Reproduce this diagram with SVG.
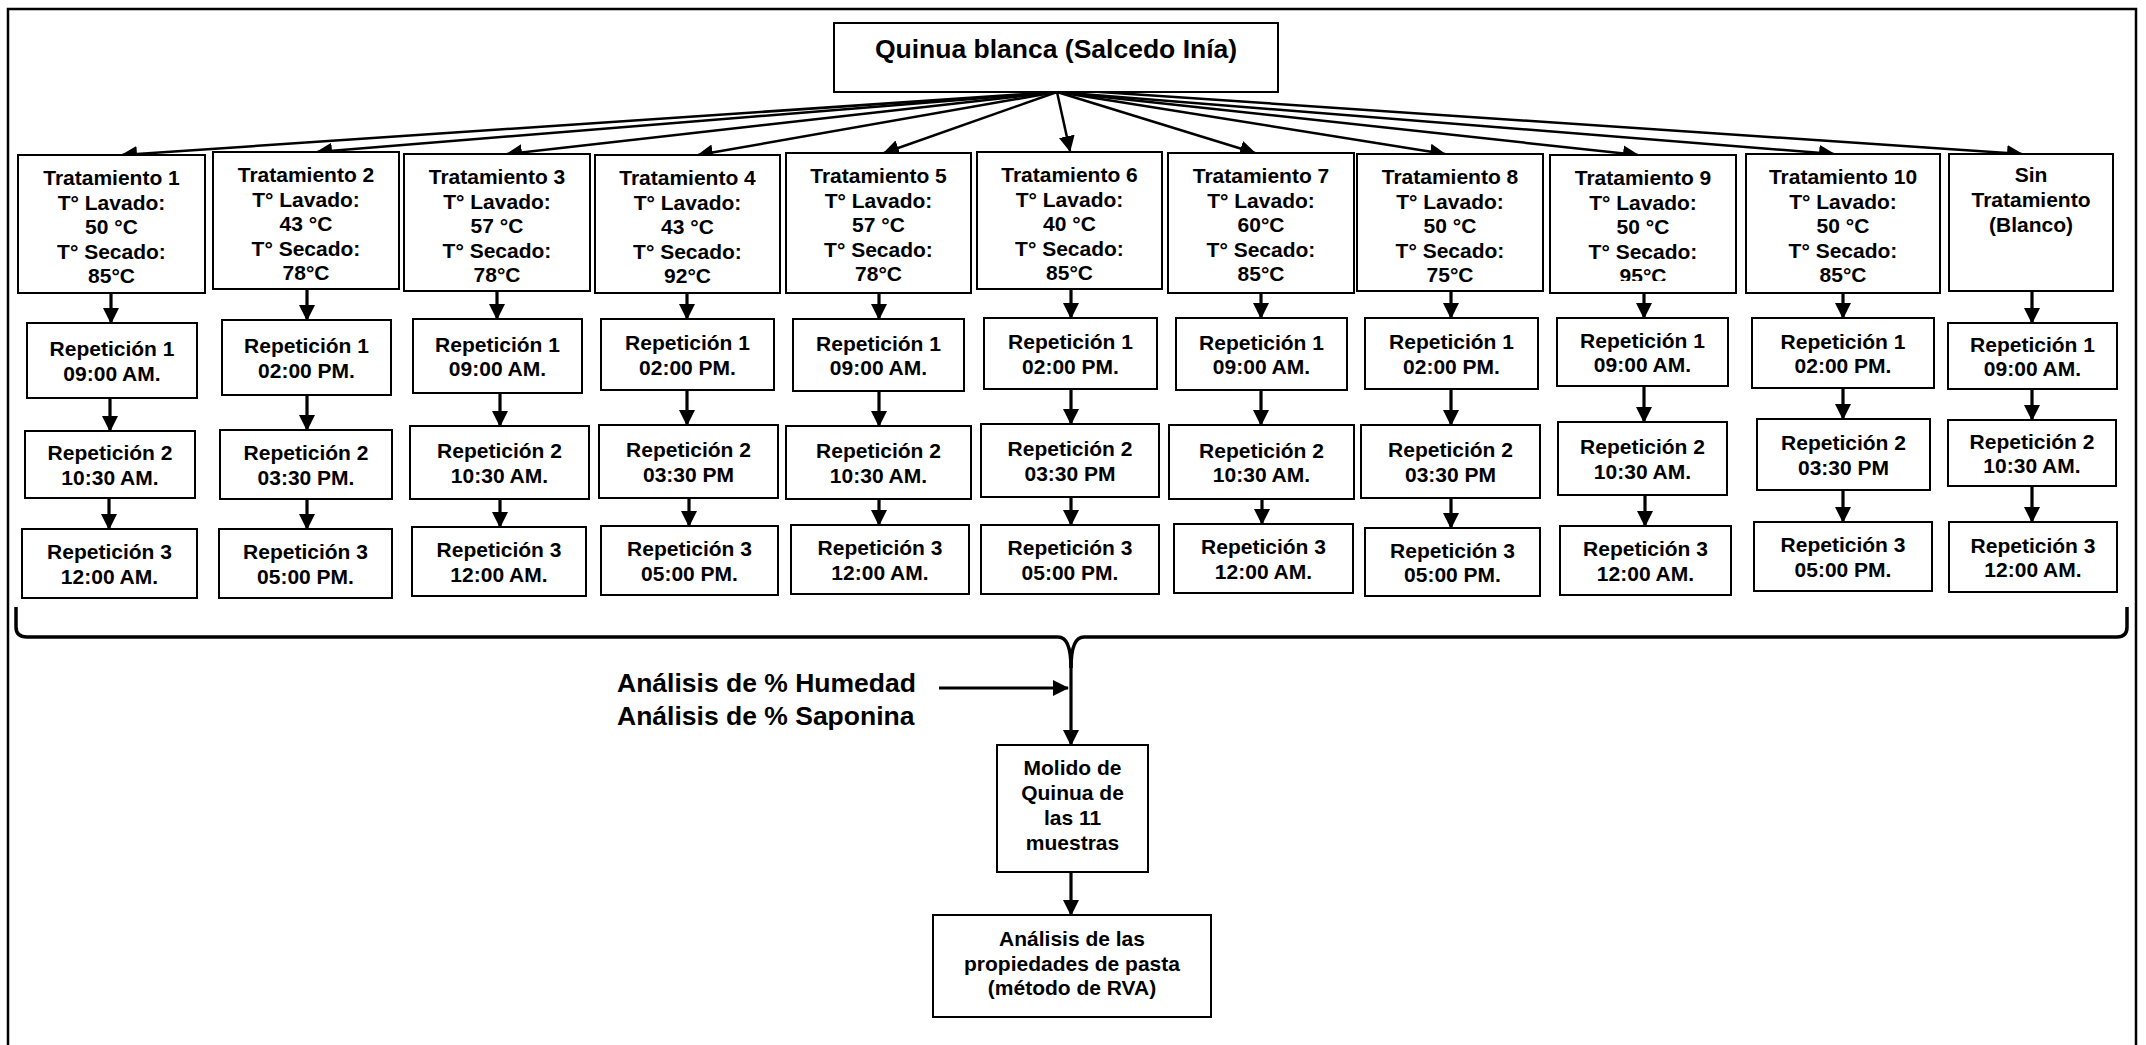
<svg xmlns="http://www.w3.org/2000/svg" width="2146" height="1045" viewBox="0 0 2146 1045">
<style>
.box{fill:#fff;stroke:#000;stroke-width:2}
.t{font-family:"Liberation Sans",Arial,sans-serif;font-weight:bold;font-size:21px;text-anchor:middle;fill:#000}
.big{font-size:26.5px}
.lbl{font-family:"Liberation Sans",Arial,sans-serif;font-weight:bold;font-size:26.5px;fill:#000}
.fan{stroke:#000;stroke-width:2.5;fill:none;marker-end:url(#ah)}
.v{stroke:#000;stroke-width:3.2;fill:none;marker-end:url(#ah)}
.br{stroke:#000;stroke-width:3.5;fill:none}
</style>
<defs>
<marker id="ah" markerUnits="userSpaceOnUse" markerWidth="17" markerHeight="17" refX="15" refY="8" orient="auto"><path d="M0,0 L16,8 L0,16 z" fill="#000"/></marker>
<clipPath id="c9"><rect x="1550" y="150" width="190" height="131"/></clipPath>
</defs>
<rect x="8" y="9" width="2128" height="1045" fill="none" stroke="#000" stroke-width="2.5"/>

<g id="connectors">
<line class="fan" x1="1057" y1="92" x2="122" y2="155"/>
<line class="fan" x1="1057" y1="92" x2="317" y2="152"/>
<line class="fan" x1="1057" y1="92" x2="507" y2="154"/>
<line class="fan" x1="1057" y1="92" x2="698" y2="155"/>
<line class="fan" x1="1057" y1="92" x2="884" y2="153"/>
<line class="fan" x1="1057" y1="92" x2="1070" y2="151"/>
<line class="fan" x1="1057" y1="92" x2="1255" y2="153"/>
<line class="fan" x1="1057" y1="92" x2="1445" y2="154"/>
<line class="fan" x1="1057" y1="92" x2="1638" y2="155"/>
<line class="fan" x1="1057" y1="92" x2="1834" y2="154"/>
<line class="fan" x1="1085" y1="91" x2="2022" y2="154"/>
<line class="v" x1="111" y1="293" x2="111" y2="323"/><line class="v" x1="110" y1="398" x2="110" y2="431"/><line class="v" x1="109" y1="498" x2="109" y2="529"/>
<line class="v" x1="307" y1="289" x2="307" y2="320"/><line class="v" x1="307" y1="395" x2="307" y2="430"/><line class="v" x1="307" y1="499" x2="307" y2="529"/>
<line class="v" x1="497" y1="291" x2="497" y2="319"/><line class="v" x1="500" y1="393" x2="500" y2="426"/><line class="v" x1="500" y1="499" x2="500" y2="527"/>
<line class="v" x1="687" y1="293" x2="687" y2="319"/><line class="v" x1="687" y1="390" x2="687" y2="425"/><line class="v" x1="689" y1="498" x2="689" y2="526"/>
<line class="v" x1="879" y1="293" x2="879" y2="319"/><line class="v" x1="879" y1="391" x2="879" y2="426"/><line class="v" x1="879" y1="499" x2="879" y2="525"/>
<line class="v" x1="1071" y1="289" x2="1071" y2="318"/><line class="v" x1="1071" y1="389" x2="1071" y2="424"/><line class="v" x1="1071" y1="497" x2="1071" y2="525"/>
<line class="v" x1="1261" y1="293" x2="1261" y2="318"/><line class="v" x1="1261" y1="390" x2="1261" y2="425"/><line class="v" x1="1262" y1="499" x2="1262" y2="524"/>
<line class="v" x1="1451" y1="291" x2="1451" y2="318"/><line class="v" x1="1451" y1="389" x2="1451" y2="425"/><line class="v" x1="1451" y1="498" x2="1451" y2="528"/>
<line class="v" x1="1644" y1="293" x2="1644" y2="318"/><line class="v" x1="1644" y1="386" x2="1644" y2="422"/><line class="v" x1="1645" y1="495" x2="1645" y2="526"/>
<line class="v" x1="1843" y1="293" x2="1843" y2="318"/><line class="v" x1="1843" y1="388" x2="1843" y2="419"/><line class="v" x1="1843" y1="490" x2="1843" y2="522"/>
<line class="v" x1="2032" y1="291" x2="2032" y2="323"/><line class="v" x1="2032" y1="389" x2="2032" y2="420"/><line class="v" x1="2032" y1="486" x2="2032" y2="522"/>
<path class="br" d="M16,607 L16,627 Q16,637 27,637 L1058,637 Q1071,637 1071,668 M1071,668 Q1071,637 1084,637 L2117,637 Q2127,637 2127,627 L2127,607"/>
<line class="v" x1="1071" y1="660" x2="1071" y2="745"/>
<line class="v" x1="939" y1="688" x2="1068" y2="688"/>
<line class="v" x1="1071" y1="872" x2="1071" y2="915"/>
</g>

<g id="top"><rect class="box" x="834" y="23" width="444" height="69"/><text class="t big" x="1056" y="58">Quinua blanca (Salcedo Inía)</text></g>

<g id="t1"><rect class="box" x="18" y="155" width="187" height="138"/><text class="t" y="185"><tspan x="111.5">Tratamiento 1</tspan><tspan x="111.5" dy="24.6">T° Lavado:</tspan><tspan x="111.5" dy="24.6">50 °C</tspan><tspan x="111.5" dy="24.6">T° Secado:</tspan><tspan x="111.5" dy="24.6">85°C</tspan></text></g>
<g id="t2"><rect class="box" x="213" y="152" width="186" height="137"/><text class="t" y="182"><tspan x="306">Tratamiento 2</tspan><tspan x="306" dy="24.6">T° Lavado:</tspan><tspan x="306" dy="24.6">43 °C</tspan><tspan x="306" dy="24.6">T° Secado:</tspan><tspan x="306" dy="24.6">78°C</tspan></text></g>
<g id="t3"><rect class="box" x="404" y="154" width="186" height="137"/><text class="t" y="184"><tspan x="497">Tratamiento 3</tspan><tspan x="497" dy="24.6">T° Lavado:</tspan><tspan x="497" dy="24.6">57 °C</tspan><tspan x="497" dy="24.6">T° Secado:</tspan><tspan x="497" dy="24.6">78°C</tspan></text></g>
<g id="t4"><rect class="box" x="595" y="155" width="185" height="138"/><text class="t" y="185"><tspan x="687.5">Tratamiento 4</tspan><tspan x="687.5" dy="24.6">T° Lavado:</tspan><tspan x="687.5" dy="24.6">43 °C</tspan><tspan x="687.5" dy="24.6">T° Secado:</tspan><tspan x="687.5" dy="24.6">92°C</tspan></text></g>
<g id="t5"><rect class="box" x="786" y="153" width="185" height="140"/><text class="t" y="183"><tspan x="878.5">Tratamiento 5</tspan><tspan x="878.5" dy="24.6">T° Lavado:</tspan><tspan x="878.5" dy="24.6">57 °C</tspan><tspan x="878.5" dy="24.6">T° Secado:</tspan><tspan x="878.5" dy="24.6">78°C</tspan></text></g>
<g id="t6"><rect class="box" x="977" y="152" width="185" height="137"/><text class="t" y="182"><tspan x="1069.5">Tratamiento 6</tspan><tspan x="1069.5" dy="24.6">T° Lavado:</tspan><tspan x="1069.5" dy="24.6">40 °C</tspan><tspan x="1069.5" dy="24.6">T° Secado:</tspan><tspan x="1069.5" dy="24.6">85°C</tspan></text></g>
<g id="t7"><rect class="box" x="1168" y="153" width="186" height="140"/><text class="t" y="183"><tspan x="1261">Tratamiento 7</tspan><tspan x="1261" dy="24.6">T° Lavado:</tspan><tspan x="1261" dy="24.6">60°C</tspan><tspan x="1261" dy="24.6">T° Secado:</tspan><tspan x="1261" dy="24.6">85°C</tspan></text></g>
<g id="t8"><rect class="box" x="1357" y="154" width="186" height="137"/><text class="t" y="184"><tspan x="1450">Tratamiento 8</tspan><tspan x="1450" dy="24.6">T° Lavado:</tspan><tspan x="1450" dy="24.6">50 °C</tspan><tspan x="1450" dy="24.6">T° Secado:</tspan><tspan x="1450" dy="24.6">75°C</tspan></text></g>
<g id="t9"><rect class="box" x="1550" y="155" width="186" height="138"/><text class="t" y="185" clip-path="url(#c9)"><tspan x="1643">Tratamiento 9</tspan><tspan x="1643" dy="24.6">T° Lavado:</tspan><tspan x="1643" dy="24.6">50 °C</tspan><tspan x="1643" dy="24.6">T° Secado:</tspan><tspan x="1643" dy="24.6">95°C</tspan></text></g>
<g id="t10"><rect class="box" x="1746" y="154" width="194" height="139"/><text class="t" y="184"><tspan x="1843">Tratamiento 10</tspan><tspan x="1843" dy="24.6">T° Lavado:</tspan><tspan x="1843" dy="24.6">50 °C</tspan><tspan x="1843" dy="24.6">T° Secado:</tspan><tspan x="1843" dy="24.6">85°C</tspan></text></g>
<g id="t11"><rect class="box" x="1949" y="154" width="164" height="137"/><text class="t" y="182"><tspan x="2031">Sin</tspan><tspan x="2031" dy="25">Tratamiento</tspan><tspan x="2031" dy="25">(Blanco)</tspan></text></g>

<g id="r1-1"><rect class="box" x="27" y="323" width="170" height="75"/><text class="t" y="356"><tspan x="112">Repetición 1</tspan><tspan x="112" dy="24.5">09:00 AM.</tspan></text></g>
<g id="r1-2"><rect class="box" x="25" y="431" width="170" height="67"/><text class="t" y="460"><tspan x="110">Repetición 2</tspan><tspan x="110" dy="24.5">10:30 AM.</tspan></text></g>
<g id="r1-3"><rect class="box" x="22" y="529" width="175" height="69"/><text class="t" y="559"><tspan x="109.5">Repetición 3</tspan><tspan x="109.5" dy="24.5">12:00 AM.</tspan></text></g>

<g id="r2-1"><rect class="box" x="222" y="320" width="169" height="75"/><text class="t" y="353"><tspan x="306.5">Repetición 1</tspan><tspan x="306.5" dy="24.5">02:00 PM.</tspan></text></g>
<g id="r2-2"><rect class="box" x="220" y="430" width="172" height="69"/><text class="t" y="460"><tspan x="306">Repetición 2</tspan><tspan x="306" dy="24.5">03:30 PM.</tspan></text></g>
<g id="r2-3"><rect class="box" x="219" y="529" width="173" height="69"/><text class="t" y="559"><tspan x="305.5">Repetición 3</tspan><tspan x="305.5" dy="24.5">05:00 PM.</tspan></text></g>

<g id="r3-1"><rect class="box" x="413" y="319" width="169" height="74"/><text class="t" y="351.5"><tspan x="497.5">Repetición 1</tspan><tspan x="497.5" dy="24.5">09:00 AM.</tspan></text></g>
<g id="r3-2"><rect class="box" x="410" y="426" width="179" height="73"/><text class="t" y="458"><tspan x="499.5">Repetición 2</tspan><tspan x="499.5" dy="24.5">10:30 AM.</tspan></text></g>
<g id="r3-3"><rect class="box" x="412" y="527" width="174" height="69"/><text class="t" y="557"><tspan x="499">Repetición 3</tspan><tspan x="499" dy="24.5">12:00 AM.</tspan></text></g>

<g id="r4-1"><rect class="box" x="601" y="319" width="173" height="71"/><text class="t" y="350"><tspan x="687.5">Repetición 1</tspan><tspan x="687.5" dy="24.5">02:00 PM.</tspan></text></g>
<g id="r4-2"><rect class="box" x="599" y="425" width="179" height="73"/><text class="t" y="457"><tspan x="688.5">Repetición 2</tspan><tspan x="688.5" dy="24.5">03:30 PM</tspan></text></g>
<g id="r4-3"><rect class="box" x="601" y="526" width="177" height="69"/><text class="t" y="556"><tspan x="689.5">Repetición 3</tspan><tspan x="689.5" dy="24.5">05:00 PM.</tspan></text></g>

<g id="r5-1"><rect class="box" x="793" y="319" width="171" height="72"/><text class="t" y="350.5"><tspan x="878.5">Repetición 1</tspan><tspan x="878.5" dy="24.5">09:00 AM.</tspan></text></g>
<g id="r5-2"><rect class="box" x="786" y="426" width="185" height="73"/><text class="t" y="458"><tspan x="878.5">Repetición 2</tspan><tspan x="878.5" dy="24.5">10:30 AM.</tspan></text></g>
<g id="r5-3"><rect class="box" x="791" y="525" width="178" height="69"/><text class="t" y="555"><tspan x="880">Repetición 3</tspan><tspan x="880" dy="24.5">12:00 AM.</tspan></text></g>

<g id="r6-1"><rect class="box" x="984" y="318" width="173" height="71"/><text class="t" y="349"><tspan x="1070.5">Repetición 1</tspan><tspan x="1070.5" dy="24.5">02:00 PM.</tspan></text></g>
<g id="r6-2"><rect class="box" x="981" y="424" width="178" height="73"/><text class="t" y="456"><tspan x="1070">Repetición 2</tspan><tspan x="1070" dy="24.5">03:30 PM</tspan></text></g>
<g id="r6-3"><rect class="box" x="981" y="525" width="178" height="69"/><text class="t" y="555"><tspan x="1070">Repetición 3</tspan><tspan x="1070" dy="24.5">05:00 PM.</tspan></text></g>

<g id="r7-1"><rect class="box" x="1176" y="318" width="171" height="72"/><text class="t" y="349.5"><tspan x="1261.5">Repetición 1</tspan><tspan x="1261.5" dy="24.5">09:00 AM.</tspan></text></g>
<g id="r7-2"><rect class="box" x="1169" y="425" width="185" height="74"/><text class="t" y="457.5"><tspan x="1261.5">Repetición 2</tspan><tspan x="1261.5" dy="24.5">10:30 AM.</tspan></text></g>
<g id="r7-3"><rect class="box" x="1174" y="524" width="179" height="69"/><text class="t" y="554"><tspan x="1263.5">Repetición 3</tspan><tspan x="1263.5" dy="24.5">12:00 AM.</tspan></text></g>

<g id="r8-1"><rect class="box" x="1365" y="318" width="173" height="71"/><text class="t" y="349"><tspan x="1451.5">Repetición 1</tspan><tspan x="1451.5" dy="24.5">02:00 PM.</tspan></text></g>
<g id="r8-2"><rect class="box" x="1361" y="425" width="179" height="73"/><text class="t" y="457"><tspan x="1450.5">Repetición 2</tspan><tspan x="1450.5" dy="24.5">03:30 PM</tspan></text></g>
<g id="r8-3"><rect class="box" x="1365" y="528" width="175" height="68"/><text class="t" y="557.5"><tspan x="1452.5">Repetición 3</tspan><tspan x="1452.5" dy="24.5">05:00 PM.</tspan></text></g>

<g id="r9-1"><rect class="box" x="1557" y="318" width="171" height="68"/><text class="t" y="347.5"><tspan x="1642.5">Repetición 1</tspan><tspan x="1642.5" dy="24.5">09:00 AM.</tspan></text></g>
<g id="r9-2"><rect class="box" x="1558" y="422" width="169" height="73"/><text class="t" y="454"><tspan x="1642.5">Repetición 2</tspan><tspan x="1642.5" dy="24.5">10:30 AM.</tspan></text></g>
<g id="r9-3"><rect class="box" x="1560" y="526" width="171" height="69"/><text class="t" y="556"><tspan x="1645.5">Repetición 3</tspan><tspan x="1645.5" dy="24.5">12:00 AM.</tspan></text></g>

<g id="r10-1"><rect class="box" x="1752" y="318" width="182" height="70"/><text class="t" y="348.5"><tspan x="1843">Repetición 1</tspan><tspan x="1843" dy="24.5">02:00 PM.</tspan></text></g>
<g id="r10-2"><rect class="box" x="1757" y="419" width="173" height="71"/><text class="t" y="450"><tspan x="1843.5">Repetición 2</tspan><tspan x="1843.5" dy="24.5">03:30 PM</tspan></text></g>
<g id="r10-3"><rect class="box" x="1754" y="522" width="178" height="69"/><text class="t" y="552"><tspan x="1843">Repetición 3</tspan><tspan x="1843" dy="24.5">05:00 PM.</tspan></text></g>

<g id="r11-1"><rect class="box" x="1948" y="323" width="169" height="66"/><text class="t" y="351.5"><tspan x="2032.5">Repetición 1</tspan><tspan x="2032.5" dy="24.5">09:00 AM.</tspan></text></g>
<g id="r11-2"><rect class="box" x="1948" y="420" width="168" height="66"/><text class="t" y="448.5"><tspan x="2032">Repetición 2</tspan><tspan x="2032" dy="24.5">10:30 AM.</tspan></text></g>
<g id="r11-3"><rect class="box" x="1949" y="522" width="168" height="70"/><text class="t" y="552.5"><tspan x="2033">Repetición 3</tspan><tspan x="2033" dy="24.5">12:00 AM.</tspan></text></g>

<g id="analisis"><text class="lbl" x="617" y="692">Análisis de % Humedad</text><text class="lbl" x="617" y="725">Análisis de % Saponina</text></g>
<g id="molido"><rect class="box" x="997" y="745" width="151" height="127"/><text class="t" y="775"><tspan x="1072.5">Molido de</tspan><tspan x="1072.5" dy="25">Quinua de</tspan><tspan x="1072.5" dy="25">las 11</tspan><tspan x="1072.5" dy="25">muestras</tspan></text></g>
<g id="rva"><rect class="box" x="933" y="915" width="278" height="102"/><text class="t" y="946"><tspan x="1072">Análisis de las</tspan><tspan x="1072" dy="24.5">propiedades de pasta</tspan><tspan x="1072" dy="24.5">(método de RVA)</tspan></text></g>
</svg>
